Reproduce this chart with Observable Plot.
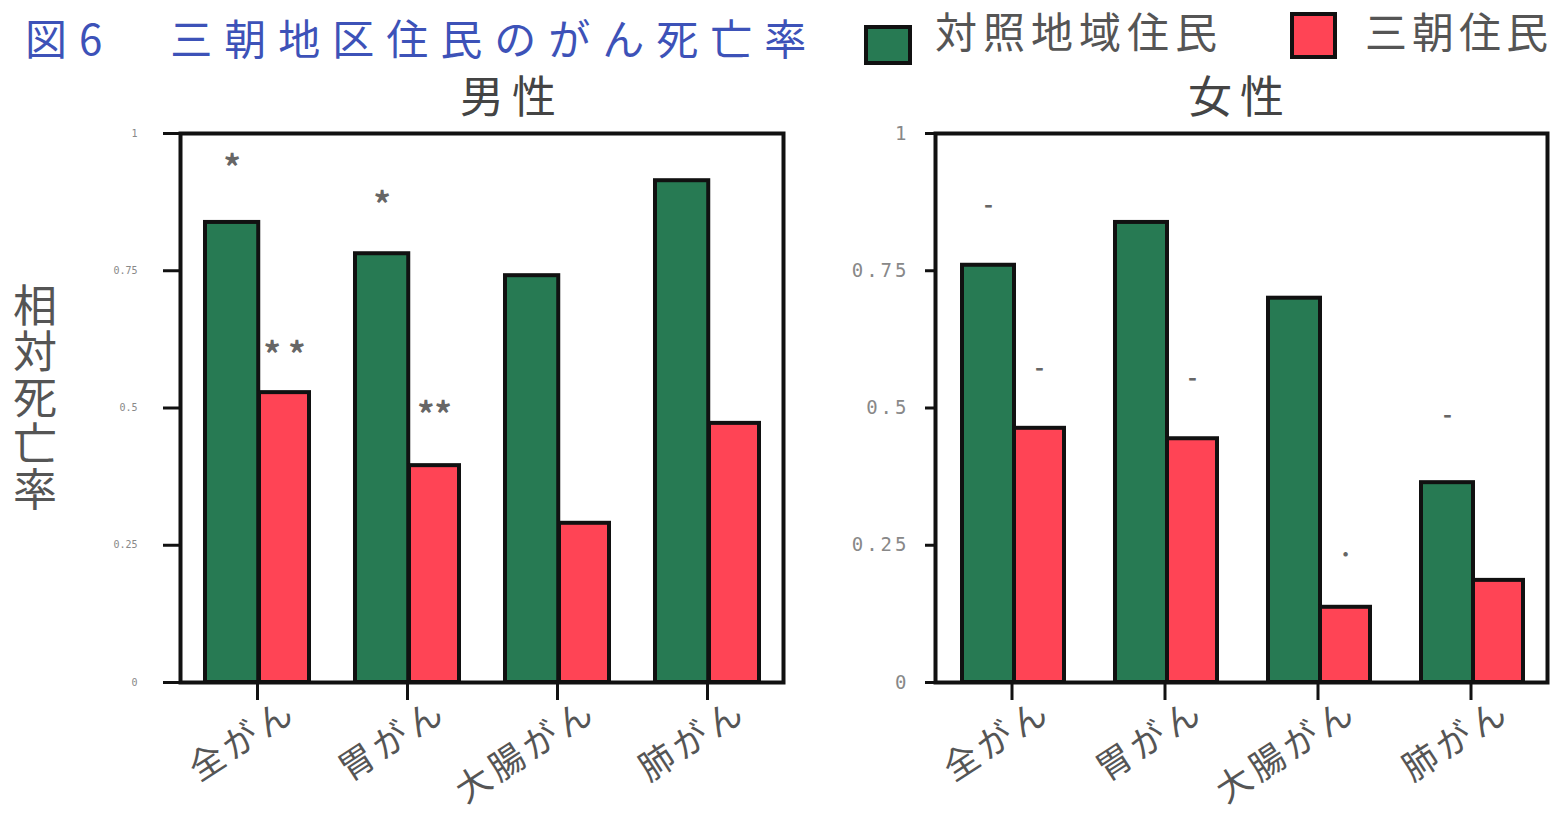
<!DOCTYPE html>
<html><head><meta charset="utf-8">
<script src="https://cdn.jsdelivr.net/npm/d3@7"></script>
<script src="https://cdn.jsdelivr.net/npm/@observablehq/plot@0.6"></script>
<style>
body{margin:0;background:#fff;font-family:"Noto Sans CJK JP",sans-serif;}
#root{position:relative;width:1554px;height:816px;overflow:hidden;background:#fff;}
.abs{position:absolute;white-space:nowrap;line-height:1.2;}
.box{position:absolute;border:4px solid #111;box-sizing:border-box;}
#left,#right{position:absolute;top:0;}
</style></head><body><div id="root">
<div class="abs" style="left:25px;top:12px;font-size:42px;color:#3d52b8;letter-spacing:12px;">図6<span style="display:inline-block;width:56px"></span>三朝地区住民のがん死亡率</div>
<div class="box" style="left:864px;top:25px;width:48px;height:40px;background:#277a53;"></div>
<div class="abs" style="left:935px;top:5px;font-size:42px;color:#555;letter-spacing:6px;">対照地域住民</div>
<div class="box" style="left:1290px;top:12px;width:47px;height:47px;background:#ff4455;"></div>
<div class="abs" style="left:1365px;top:5px;font-size:42px;color:#555;letter-spacing:5px;">三朝住民</div>
<div class="abs" style="left:460px;top:68px;font-size:44px;color:#444;letter-spacing:8px;">男性</div>
<div class="abs" style="left:1188px;top:68px;font-size:44px;color:#444;letter-spacing:8px;">女性</div>
<div class="abs" style="left:13px;top:280px;font-size:44px;color:#555;white-space:normal;width:50px;line-height:46px;">相対死亡率</div>
<div id="left"></div>
<div id="right"></div>
</div>
<script>
const cancers = ["全がん", "胃がん", "大腸がん", "肺がん"];
const groups = ["対照地域住民", "三朝住民"];
const groupColors = ["#277a53", "#ff4455"];
const maleControl = [0.838, 0.781, 0.741, 0.914];
const maleMisasa = [0.528, 0.395, 0.290, 0.472];
const femaleControl = [0.760, 0.838, 0.700, 0.364];
const femaleMisasa = [0.463, 0.444, 0.137, 0.186];
const yTicks = [0, 0.25, 0.5, 0.75, 1];
// significance marks: cancer, group, text, height
const maleSigCancer = ["全がん", "全がん", "胃がん", "胃がん"];
const maleSigGroup = ["対照地域住民", "三朝住民", "対照地域住民", "三朝住民"];
const maleSigText = ["*", "* *", "*", "**"];
const maleSigY = [0.935, 0.595, 0.868, 0.485];
const femaleSigCancer = ["全がん", "全がん", "胃がん", "大腸がん", "肺がん"];
const femaleSigGroup = ["対照地域住民", "三朝住民", "三朝住民", "三朝住民", "対照地域住民"];
const femaleSigText = ["-", "-", "-", "·", "-"];
const femaleSigY = [0.869, 0.572, 0.554, 0.231, 0.486];

function rows(control, misasa) {
  return cancers.flatMap((c, i) => [
    {cancer: c, group: groups[0], value: control[i]},
    {cancer: c, group: groups[1], value: misasa[i]}
  ]);
}
function sig(cs, gs, ts, ys) {
  return cs.map((c, i) => ({cancer: c, group: gs[i], text: ts[i], value: ys[i]}));
}

function panel(data, marksData, o) {
  const bw = (o.width - o.marginLeft - o.marginRight) / cancers.length;
  const g0 = data.filter(d => d.group === groups[0]);
  const g1 = data.filter(d => d.group === groups[1]);
  const s0 = marksData.filter(d => d.group === groups[0]);
  const s1 = marksData.filter(d => d.group === groups[1]);
  const c0 = (o.gl + o.split) / 2 - bw / 2;
  const c1 = (o.split + bw - o.rr) / 2 - bw / 2;
  return Plot.plot({
    width: o.width, height: 816,
    marginTop: 133, marginBottom: 134, marginLeft: o.marginLeft, marginRight: o.marginRight,
    style: {fontFamily: "'Noto Sans CJK JP', sans-serif", background: "transparent"},
    x: {domain: cancers, padding: 0, axis: null},
    y: {domain: [0, 1], axis: null},
    color: {domain: groups, range: groupColors},
    marks: [
      Plot.barY(g0, {x: "cancer", y: "value", fill: "group", stroke: "#111", strokeWidth: 4,
        insetLeft: o.gl, insetRight: bw - o.split}),
      Plot.barY(g1, {x: "cancer", y: "value", fill: "group", stroke: "#111", strokeWidth: 4,
        insetLeft: o.split, insetRight: o.rr}),
      Plot.frame({stroke: "#111", strokeWidth: 4}),
      Plot.axisY(yTicks, {anchor: "left", label: null, tickSize: o.yTickSize, tickPadding: o.yPad, fontSize: o.yFont,
        fill: "#888", stroke: "#111", strokeWidth: 3, fontFamily: o.yFamily, tickFormat: d => String(d)}),
      Plot.axisX({anchor: "bottom", label: null, tickSize: 18, stroke: "#111", strokeWidth: 3, tickFormat: () => ""}),
      Plot.axisX({anchor: "bottom", label: null, tickSize: 0, tickPadding: 22, tickRotate: -33, fontSize: 35,
        fill: "#555", dx: 36, dy: 3}),
      Plot.text(s0, {x: "cancer", y: "value", text: "text", dx: c0, fontSize: o.sigFont, fill: "#666", fontWeight: "bold"}),
      Plot.text(s1, {x: "cancer", y: "value", text: "text", dx: c1, fontSize: o.sigFont, fill: "#666", fontWeight: "bold"})
    ]
  });
}

const left = panel(rows(maleControl, maleMisasa), sig(maleSigCancer, maleSigGroup, maleSigText, maleSigY), {
  width: 800, marginLeft: 180, marginRight: 17, gl: 23, split: 77, rr: 23,
  yTickSize: 17, yPad: 26, yFont: 10, yFamily: "'DejaVu Sans Mono', monospace", sigFont: 34
});
const right = panel(rows(femaleControl, femaleMisasa), sig(femaleSigCancer, femaleSigGroup, femaleSigText, femaleSigY), {
  width: 754, marginLeft: 135, marginRight: 7, gl: 27, split: 79, rr: 24,
  yTickSize: 10, yPad: 16, yFont: 19, yFamily: "'DejaVu Sans Mono', monospace", sigFont: 24
});
document.getElementById("left").appendChild(left);
const rd = document.getElementById("right");
rd.style.left = "800px";
rd.appendChild(right);
d3.select(right).selectAll('g[aria-label="y-axis tick label"] text').style("letter-spacing", "3px");
for (const svg of [left, right]) {
  d3.select(svg).selectAll('g[aria-label="x-axis tick label"] text').style("letter-spacing", "5px");
}
</script>
</body></html>
